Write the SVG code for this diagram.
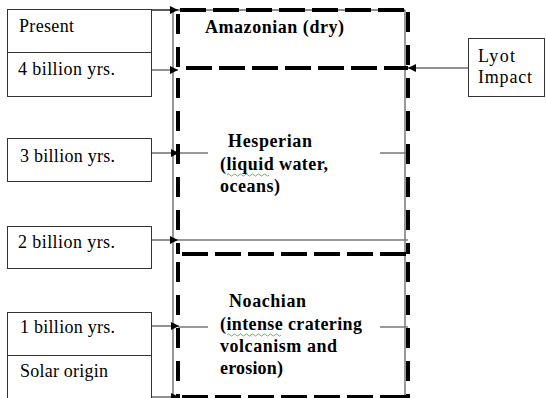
<svg xmlns="http://www.w3.org/2000/svg" width="546" height="398" viewBox="0 0 546 398">
<style>
.box{fill:#fff;stroke:#333;stroke-width:1}
.t{font-family:"Liberation Serif","DejaVu Serif",serif;font-size:18px;fill:#000}
.b{font-family:"Liberation Serif","DejaVu Serif",serif;font-size:18px;font-weight:bold;fill:#000}
.thin{stroke:#777;stroke-width:1.5;fill:none}
.conn{stroke:#222;stroke-width:1;fill:none}
.dh{stroke:#000;stroke-width:4;stroke-dasharray:26 7;fill:none}
.dv{stroke:#000;stroke-width:4;stroke-dasharray:20 13;fill:none}
.sq{stroke:#3a3;stroke-width:0.8;fill:none}
</style>
<defs>
<marker id="ah" markerWidth="8" markerHeight="8" refX="8" refY="4" orient="auto" markerUnits="userSpaceOnUse">
<path d="M0,0 L8,4 L0,8 Z" fill="#000"/>
</marker>
</defs>
<rect width="546" height="398" fill="#fff"/>
<g id="frame">
<line class="thin" x1="173" y1="8" x2="173" y2="398"/>
<line class="thin" x1="405" y1="10" x2="405" y2="398"/>
<line class="conn" x1="151" y1="10" x2="405" y2="10"/>
<line class="thin" x1="178" y1="153" x2="208" y2="153"/>
<line class="thin" x1="380" y1="153" x2="408" y2="153"/>
<line class="thin" x1="178" y1="240" x2="408" y2="240" stroke="#999"/>
<line class="thin" x1="178" y1="327" x2="208" y2="327"/>
<line class="thin" x1="380" y1="327" x2="408" y2="327"/>
</g>
<g id="amazonian">
<line class="dh" x1="180" y1="10" x2="408" y2="10"/>
<line class="dv" x1="178" y1="14" x2="178" y2="68"/>
<line class="dv" x1="408" y1="12" x2="408" y2="68"/>
<text class="b" x="205" y="33" textLength="139" lengthAdjust="spacing">Amazonian (dry)</text>
</g>
<g id="hesperian">
<line class="dh" x1="186" y1="68" x2="408" y2="68"/>
<line class="dv" x1="178" y1="78" x2="178" y2="254"/>
<line class="dv" x1="408" y1="78" x2="408" y2="254"/>
<text class="b" x="228" y="147" textLength="84" lengthAdjust="spacing">Hesperian</text>
<text class="b" x="220" y="170" textLength="108" lengthAdjust="spacing">(liquid water,</text>
<text class="b" x="220" y="192" textLength="60" lengthAdjust="spacing">oceans)</text>
<path class="sq" d="M227,175 q1.5,-2 3,0 t3,0 t3,0 t3,0 t3,0 t3,0 t3,0 t3,0 t3,0 t3,0 t3,0 t3,0 t3,0 t3,0"/>
</g>
<g id="noachian">
<line class="dh" x1="182" y1="254" x2="408" y2="254"/>
<line class="dv" x1="178" y1="262" x2="178" y2="398"/>
<line class="dv" x1="408" y1="262" x2="408" y2="398"/>
<line class="dh" x1="182" y1="397" x2="408" y2="397"/>
<text class="b" x="229" y="307" textLength="77" lengthAdjust="spacing">Noachian</text>
<text class="b" x="220" y="330" textLength="142" lengthAdjust="spacing">(intense cratering</text>
<text class="b" x="220" y="352" textLength="117" lengthAdjust="spacing">volcanism and</text>
<text class="b" x="220" y="374" textLength="63" lengthAdjust="spacing">erosion)</text>
<path class="sq" d="M227,335 q1.5,-2 3,0 t3,0 t3,0 t3,0 t3,0 t3,0 t3,0 t3,0 t3,0 t3,0 t3,0 t3,0 t3,0 t3,0 t3,0 t3,0 t3,0 t3,0"/>
</g>
<g id="present">
<rect class="box" x="7.5" y="9.5" width="144" height="43"/>
<text class="t" x="19" y="32" textLength="55" lengthAdjust="spacing">Present</text>
</g>
<g id="b4">
<rect class="box" x="7.5" y="52.5" width="144" height="44"/>
<text class="t" x="18" y="75" textLength="97" lengthAdjust="spacing">4 billion yrs.</text>
</g>
<g id="b3">
<rect class="box" x="7.5" y="138.5" width="144" height="43"/>
<text class="t" x="20" y="162" textLength="95" lengthAdjust="spacing">3 billion yrs.</text>
</g>
<g id="b2">
<rect class="box" x="7.5" y="226.5" width="144" height="42"/>
<text class="t" x="18" y="248" textLength="97" lengthAdjust="spacing">2 billion yrs.</text>
</g>
<g id="b1">
<rect class="box" x="7.5" y="312.5" width="144" height="43"/>
<text class="t" x="20" y="333" textLength="95" lengthAdjust="spacing">1 billion yrs.</text>
</g>
<g id="solar">
<rect class="box" x="7.5" y="355.5" width="144" height="43"/>
<text class="t" x="20" y="377" textLength="88" lengthAdjust="spacing">Solar origin</text>
</g>
<g id="lyot">
<rect class="box" x="468.5" y="38.5" width="76" height="58"/>
<text class="t" x="478" y="62" textLength="37" lengthAdjust="spacing">Lyot</text>
<text class="t" x="478" y="83" textLength="54" lengthAdjust="spacing">Impact</text>
</g>
<g id="connectors">
<line class="conn" x1="151" y1="10" x2="178" y2="10" marker-end="url(#ah)"/>
<line class="conn" x1="151" y1="70" x2="178" y2="70" marker-end="url(#ah)"/>
<line class="conn" x1="151" y1="153" x2="179" y2="153" marker-end="url(#ah)"/>
<line class="conn" x1="151" y1="240" x2="178" y2="240" marker-end="url(#ah)"/>
<line class="conn" x1="151" y1="326" x2="179" y2="326" marker-end="url(#ah)"/>
<line class="conn" x1="151" y1="397" x2="179" y2="397" marker-end="url(#ah)"/>
<line class="conn" x1="468" y1="68" x2="408" y2="68" marker-end="url(#ah)"/>
</g>
</svg>
